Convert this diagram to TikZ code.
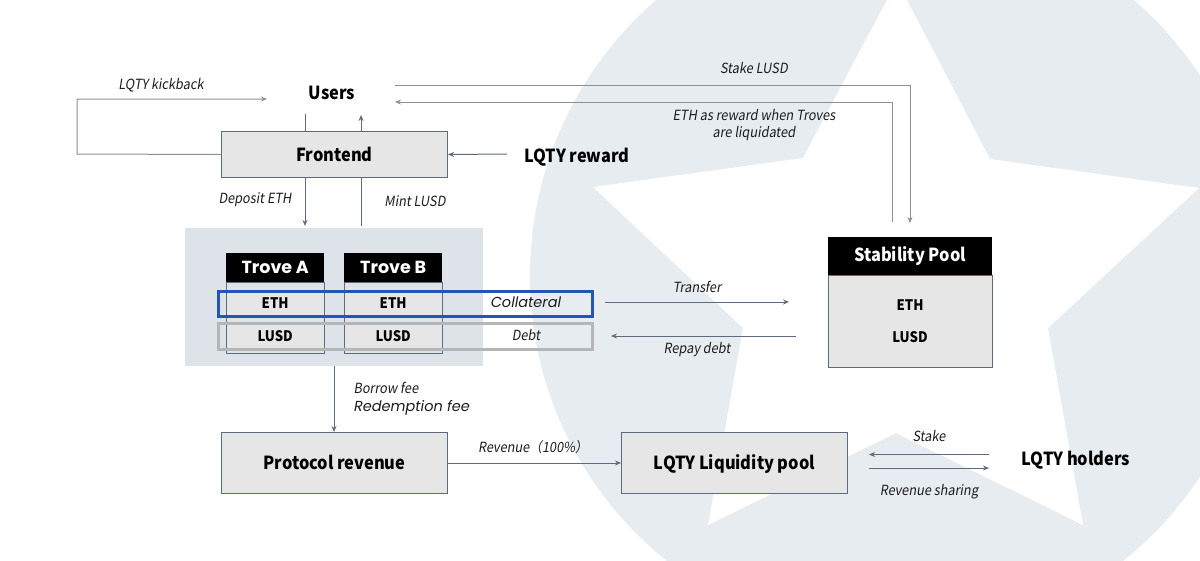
\documentclass[tikz,border=0pt]{standalone}
\usepackage{fontspec}
\usetikzlibrary{arrows.meta}
\setmainfont{Noto Sans CJK SC}[FakeStretch=0.91]
\newfontfamily\slantfont{Noto Sans CJK SC}[FakeSlant=0.16,FakeStretch=0.91]
\newfontfamily\popfont{Poppins}
\definecolor{bgblue}{HTML}{E7ECF1}
\definecolor{panelblue}{HTML}{DEE3EA}
\definecolor{boxgray}{HTML}{E6E6E6}
\definecolor{edgeblue}{HTML}{5E6B7D}
\definecolor{linegray}{HTML}{8C8F93}
\definecolor{framegray}{HTML}{B4B6B8}
\definecolor{frameblue}{HTML}{2455B4}
\definecolor{inktext}{HTML}{1C1C1C}
\tikzset{
  boxnode/.style={draw=edgeblue,line width=1pt,fill=boxgray,minimum width=226pt,minimum height=46pt,inner sep=0pt,text height=14.5pt,text depth=1pt,font=\bfseries\fontsize{18}{20}\selectfont,text=black},
  boldlabel/.style={inner sep=0pt,font=\bfseries\fontsize{18}{21}\selectfont,text=black},
  itlabel/.style={inner sep=0pt,font=\slantfont\fontsize{14}{17}\selectfont,text=inktext,align=center},
  poplabel/.style={inner sep=0pt,font=\popfont\itshape\fontsize{14.5}{17}\selectfont,text=inktext},
  header/.style={fill=black,inner sep=0pt,text=white,font=\popfont\bfseries\fontsize{17.5}{21}\selectfont},
  cellnode/.style={fill=boxgray,inner sep=0pt,minimum width=97pt,minimum height=26pt,font=\bfseries\fontsize{14.5}{18}\selectfont,text=black},
  flow/.style={draw=edgeblue,line width=1pt},
  flowgray/.style={draw=linegray,line width=1pt},
  tip/.style={-{Stealth[length=6pt,width=5pt]}}
}
\begin{document}
\begin{tikzpicture}[x=1pt,y=-1pt]
\useasboundingbox (0,0) rectangle (1200,560);
\begin{scope}
\clip (0,0) rectangle (1200,560);
\fill[white] (0,0) rectangle (1200,560);
\fill[bgblue] (895,276) circle[radius=365];
\fill[white] (897,-19) -- (990,159) -- (1199,188) -- (1048,328) -- (1083,525) -- (896,433) -- (708,525) -- (743,328) -- (593,187) -- (803,158) -- cycle;
\end{scope}
% trove panel
\fill[panelblue] (185,228) rectangle (483,366);
% trove A
\node[cellnode,anchor=north west] (ethA) at (226.5,290) {ETH};
\node[cellnode,anchor=north west] (lusdA) at (226.5,323) {LUSD};
\node[header,minimum width=98pt,minimum height=29pt,anchor=north west] (troveA) at (226,253) {Trove A};
\draw[edgeblue,line width=1pt] (226.5,282) rectangle (324,353);
% trove B
\node[cellnode,anchor=north west] (ethB) at (344.5,290) {ETH};
\node[cellnode,anchor=north west] (lusdB) at (344.5,323) {LUSD};
\node[header,minimum width=98pt,minimum height=29pt,anchor=north west] (troveB) at (344,253) {Trove B};
\draw[edgeblue,line width=1pt] (344.5,282) rectangle (442,353);
% frames
\draw[framegray,line width=3pt] (218,323) rectangle (592,349);
\draw[frameblue,line width=3pt] (218,291) rectangle (592,316);
\node[poplabel] (collateral) at (526,302.5) {Collateral};
\node[itlabel] (debt) at (526,335) {Debt};
% main boxes
\node[boxnode,anchor=north west] (frontend) at (221,131) {Frontend};
\node[boxnode,anchor=north west,minimum height=61pt] (protocol) at (221,432) {Protocol revenue};
\node[boxnode,anchor=north west,minimum height=61pt] (liquidity) at (621,432) {LQTY Liquidity pool};
% stability pool
\node[fill=boxgray,draw=edgeblue,line width=1pt,minimum width=164pt,minimum height=92pt,inner sep=0pt,anchor=north west] (stabbody) at (828,275) {};
\node[fill=black,inner sep=0pt,minimum width=164pt,minimum height=38pt,anchor=north west,text=white,font=\bfseries\fontsize{18}{21}\selectfont] (stability) at (828,237) {Stability Pool};
\node[inner sep=0pt,font=\bfseries\fontsize{14.5}{18}\selectfont,text=black] (speth) at (910,305) {ETH};
\node[inner sep=0pt,font=\bfseries\fontsize{14.5}{18}\selectfont,text=black] (splusd) at (910,337) {LUSD};
% bold labels
\node[boldlabel] (users) at (332,93) {Users};
\node[boldlabel] (reward) at (577,157) {LQTY reward};
\node[boldlabel] (holders) at (1076,460) {LQTY holders};
% connector ends
\coordinate (kickend) at (267,99);
\coordinate (kickleft) at (77,154);
\coordinate (userdown) at (305,114);
\coordinate (frontdownT) at (305,131);
\coordinate (frontdownB) at (305,177);
\coordinate (paneldown) at (305,226);
\coordinate (panelup) at (361,226);
\coordinate (frontupB) at (361,177);
\coordinate (frontupT) at (361,131);
\coordinate (userup) at (361,115);
\coordinate (rewardstart) at (507,154);
\coordinate (stakeStart) at (395,85);
\coordinate (stakeEnd) at (910,223);
\coordinate (ethStart) at (892,222);
\coordinate (ethEnd) at (395,102);
\coordinate (transferStart) at (605,302);
\coordinate (transferEnd) at (789,302);
\coordinate (repayStart) at (796,336);
\coordinate (repayEnd) at (611,336);
\coordinate (panelbottom) at (334,366);
\coordinate (stakeR) at (989,454.5);
\coordinate (stakeL) at (869,454.5);
\coordinate (shareL) at (869,468);
\coordinate (shareR) at (989,468);
% connectors
\draw[flowgray,tip] (frontend.west) -- (kickleft) |- (kickend);
\draw[flow] (userdown) -- (frontdownT);
\draw[flow,tip] (frontdownB) -- (paneldown);
\draw[flow] (panelup) -- (frontupB);
\draw[flow,tip] (frontupT) -- (userup);
\draw[flow,tip] (rewardstart) -- (frontend.east);
\draw[flowgray,tip,line width=0.8pt] (stakeStart) -| (stakeEnd);
\draw[flowgray,tip] (ethStart) |- (ethEnd);
\draw[flow,tip] (transferStart) -- (transferEnd);
\draw[flow,tip] (repayStart) -- (repayEnd);
\draw[flow,tip] (panelbottom) -- (protocol.north-|panelbottom);
\draw[flow,tip] (protocol.east) -- (liquidity.west);
\draw[flow,tip] (stakeR) -- (stakeL);
\draw[flow,tip] (shareL) -- (shareR);
% labels
\node[itlabel] (l1) at (161,85) {LQTY kickback};
\node[itlabel] (l2) at (255,200) {Deposit ETH};
\node[itlabel] (l3) at (415,201) {Mint LUSD};
\node[itlabel] (l4) at (754,68) {Stake LUSD};
\node[itlabel] (l5) at (754,125) {ETH as reward when Troves\\are liquidated};
\node[itlabel] (l6) at (697,287) {Transfer};
\node[itlabel] (l7) at (697,350) {Repay debt};
\node[itlabel] (l8) at (386,388) {Borrow fee};
\node[poplabel] (l9) at (412,408) {Redemption fee};
\node[itlabel] (l10) at (533,447) {Revenue（100\%）};
\node[itlabel] (l11) at (929,436) {Stake};
\node[itlabel] (l12) at (929,492) {Revenue sharing};
\end{tikzpicture}
\end{document}
